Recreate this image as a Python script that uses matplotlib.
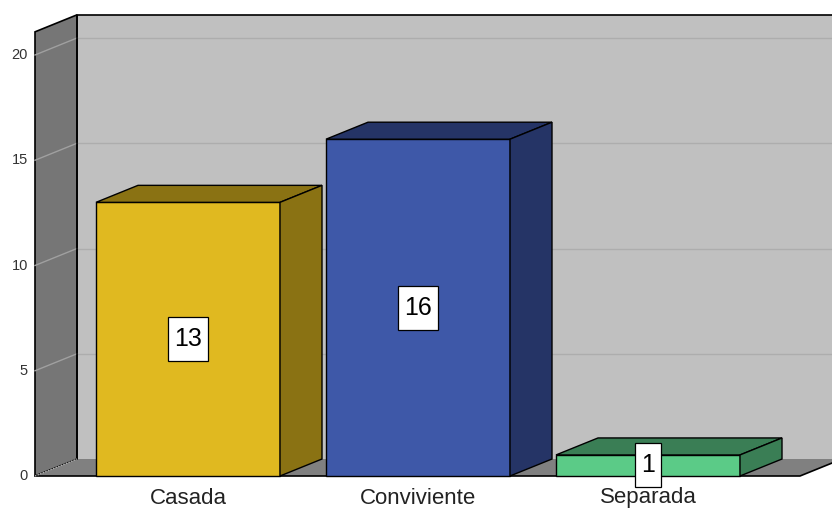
import matplotlib
matplotlib.use("Agg")
import matplotlib.pyplot as plt
from matplotlib.patches import Polygon, Rectangle

categories = ["Casada", "Conviviente", "Separada"]
values = [13, 16, 1]
front_colors = ["#e0b920", "#3e58a8", "#5bcb87"]
side_colors = ["#8a7213", "#253466", "#3a7e55"]
yticks = [0, 5, 10, 15, 20]

FONT = ["Liberation Sans", "DejaVu Sans"]

W, H = 832, 509
fig = plt.figure(figsize=(W / 100, H / 100), dpi=100)
ax = fig.add_axes([0, 0, 1, 1])
ax.axis("off")

# mapping used only for axis limits
cx0, cstep = 188, 230
y0pix, ppu = 476, 21.05
ax.set_xlim((0 - cx0) / cstep, (W - cx0) / cstep)
ax.set_ylim((y0pix - H) / ppu, y0pix / ppu)

dx = 42 / cstep
dy = 17 / ppu
bw = 0.8
ymax = 21.1
xl = (35 - cx0) / cstep
xr = (800 - cx0) / cstep
xr_back = 3.2

# back wall
ax.add_patch(Polygon([(xl + dx, dy), (xr_back, dy), (xr_back, ymax + dy), (xl + dx, ymax + dy)],
                     closed=True, facecolor="#c0c0c0", edgecolor="none", zorder=1))
ax.plot([xl + dx, xl + dx, xr_back], [dy, ymax + dy, ymax + dy], color="black", lw=1.2, zorder=3)
# left wall
ax.add_patch(Polygon([(xl, 0), (xl + dx, dy), (xl + dx, ymax + dy), (xl, ymax)],
                     closed=True, facecolor="#767676", edgecolor="black", lw=1.2, zorder=2))
# floor
ax.add_patch(Polygon([(xl, 0), (xr, 0), (xr + dx, dy), (xl + dx, dy)],
                     closed=True, facecolor="#808080", edgecolor="none", zorder=2))
ax.plot([xl, xr, xr + dx], [0, 0, dy], color="black", lw=1.2, zorder=3)
ax.plot([xl, xl + dx], [0, dy], color="#b0b0b0", lw=1, ls=(0, (1, 1)), zorder=3)

# gridlines
for t in yticks[1:]:
    ax.plot([xl + dx, xr_back], [t + dy, t + dy], color="#adadad", lw=1, zorder=1.5)
    ax.plot([xl, xl + dx], [t, t + dy], color="#a0a0a0", lw=1, zorder=2.5)

for t in yticks:
    ax.text((28 - cx0) / cstep, t, str(t), ha="right", va="center", fontsize=10.5,
            color="#333333", family=FONT)

fig.canvas.draw()
renderer = fig.canvas.get_renderer()

# bars
for i, (cat, v) in enumerate(zip(categories, values)):
    x0 = i - bw / 2
    x1 = i + bw / 2
    ax.add_patch(Polygon([(x0, 0), (x1, 0), (x1, v), (x0, v)], closed=True,
                         facecolor=front_colors[i], edgecolor="black", lw=1, zorder=5))
    ax.add_patch(Polygon([(x0, v), (x1, v), (x1 + dx, v + dy), (x0 + dx, v + dy)], closed=True,
                         facecolor=side_colors[i], edgecolor="black", lw=1, zorder=5))
    ax.add_patch(Polygon([(x1, 0), (x1 + dx, dy), (x1 + dx, v + dy), (x1, v)], closed=True,
                         facecolor=side_colors[i], edgecolor="black", lw=1, zorder=5))
    t = ax.text(i, v / 2, str(v), ha="center", va="center", fontsize=18, color="black",
                family=FONT, zorder=7)
    ext = t.get_window_extent(renderer)
    bwid = (ext.width + 12) / cstep
    bhei = 44 / ppu
    ax.add_patch(Rectangle((i - bwid / 2, v / 2 - bhei / 2), bwid, bhei,
                           facecolor="white", edgecolor="black", lw=0.9, zorder=6))
    ax.text(i, (y0pix - 498) / ppu, cat, ha="center", va="center", fontsize=16,
            color="#222222", family=FONT)

fig.savefig("out.png", dpi=100)
